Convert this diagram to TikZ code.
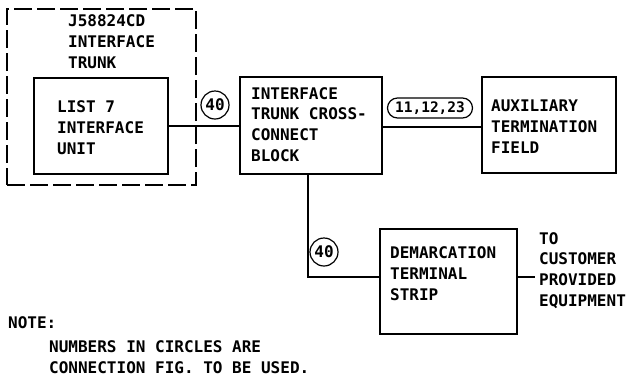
\documentclass[tikz,border=0pt]{standalone}
\usepackage{fontspec}
\newfontfamily\lettering{DejaVu Sans Mono}
\begin{document}
\begin{tikzpicture}[x=1pt,y=-1pt,
  box/.style={draw, line width=1.4pt, inner sep=0pt},
  dashbox/.style={draw, line width=1.4pt, inner sep=0pt, dash pattern=on 18pt off 5pt},
  lbl/.style={font=\lettering\bfseries\fontsize{16}{20.8}\selectfont, anchor=base west, inner sep=0pt, align=left},
  conn/.style={line width=1.4pt},
  ring/.style={draw, line width=1.2pt, circle, minimum size=28pt, inner sep=0pt, font=\lettering\bfseries\fontsize{16}{16}\selectfont},
  oval/.style={draw, line width=1.2pt, rounded corners=10pt, minimum width=85pt, minimum height=20pt, inner sep=0pt, font=\lettering\bfseries\fontsize{14.5}{14.5}\selectfont}]
\useasboundingbox (0,0) rectangle (629,376);
% boxes
\node[dashbox, minimum width=189pt, minimum height=176pt] (trunk) at (101.5,97) {};
\node[box, minimum width=134pt, minimum height=96pt] (unit) at (101,126) {};
\node[box, minimum width=142pt, minimum height=97pt] (icb) at (311,125.5) {};
\node[box, minimum width=134pt, minimum height=96pt] (aux) at (549,125) {};
\node[box, minimum width=137pt, minimum height=105pt] (dem) at (448.5,281.5) {};
% labels (anchored at the baseline of their last line)
\node[lbl] (trunkt) at (68,68.5) {J58824CD\\INTERFACE\\TRUNK};
\node[lbl] (unitt) at (57,154) {LIST 7\\INTERFACE\\UNIT};
\node[lbl] (icbt) at (251,161.5) {INTERFACE\\TRUNK CROSS-\\CONNECT\\BLOCK};
\node[lbl] (auxt) at (491,153.5) {AUXILIARY\\TERMINATION\\FIELD};
\node[lbl] (demt) at (390,300.5) {DEMARCATION\\TERMINAL\\STRIP};
\node[lbl] (cpet) at (539,306.5) {TO\\CUSTOMER\\PROVIDED\\EQUIPMENT};
\node[lbl] (note) at (8,328) {NOTE:};
\node[lbl] (notet) at (49,373.5) {NUMBERS IN CIRCLES ARE\\CONNECTION FIG. TO BE USED.};
% connection figure marks
\node[ring] (c1) at (215,105) {40};
\node[ring] (c2) at (324,252) {40};
\node[oval] (c3) at (430,108) {11,12,23};
% connectors
\coordinate (cpe) at (535,277);
\draw[conn] (unit.east) -- (unit.east -| icb.west);
\draw[conn] (icb.east |- 0,127) -- (aux.west |- 0,127);
\draw[conn] (icb.south -| 308,0) |- (dem.west |- 0,277);
\draw[conn] (dem.east |- cpe) -- (cpe);
\end{tikzpicture}
\end{document}
